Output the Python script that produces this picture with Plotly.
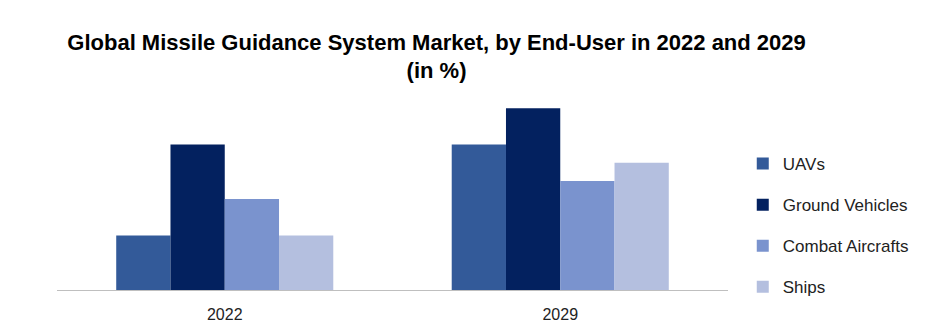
import plotly.graph_objects as go

years = ["2022", "2029"]
series_names = ["UAVs", "Ground Vehicles", "Combat Aircrafts", "Ships"]
uavs = [3, 8]
ground_vehicles = [8, 10]
combat_aircrafts = [5, 6]
ships = [3, 7]
colors = ["#335A99", "#03215F", "#7A93CE", "#B4BFDF"]

values = [uavs, ground_vehicles, combat_aircrafts, ships]

fig = go.Figure()
for i, (name, vals) in enumerate(zip(series_names, values)):
    fig.add_trace(go.Bar(
        x=years, y=vals, name=name, marker=dict(color=colors[i], line=dict(width=0)),
        legendgroup=name,
    ))

fig.update_layout(
    width=947, height=330,
    margin=dict(l=57, r=219, t=90, b=40),
    paper_bgcolor="white", plot_bgcolor="white",
    barmode="group", bargap=0.353, bargroupgap=0,
    title=dict(
        text="<b>Global Missile Guidance System Market, by End-User in 2022 and 2029<br>(in %)</b>",
        x=0.461, xanchor="center", y=0.85, yanchor="top",
        font=dict(family="Liberation Sans", size=22, color="black"),
    ),
    font=dict(family="Liberation Sans", color="#222222"),
    legend=dict(
        x=1.022, xanchor="left", y=0.72, yanchor="top",
        font=dict(size=17, color="#222222"),
        tracegroupgap=16, itemwidth=30,
    ),
    showlegend=True,
)
fig.update_xaxes(
    showline=True, linecolor="#BFBFBF", linewidth=1, ticks="",
    tickfont=dict(size=16, color="#222222"), showgrid=False,
    ticklabelstandoff=10, automargin=False,
)
fig.update_yaxes(range=[0, 11], visible=False, showgrid=False)

fig.write_html("out.html")
